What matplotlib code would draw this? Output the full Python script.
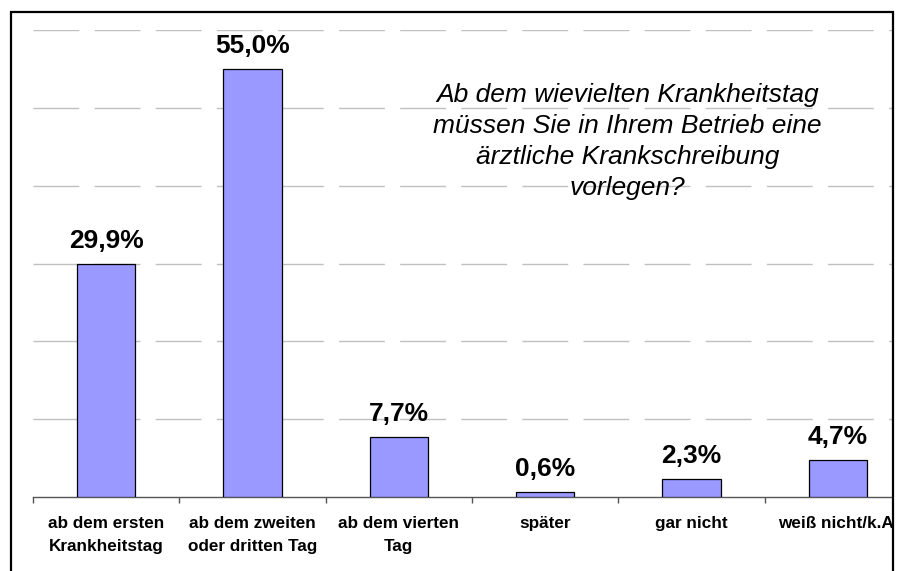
import numpy as np
import matplotlib.pyplot as plt
from matplotlib.patches import Rectangle

categories = ['ab dem ersten\nKrankheitstag', 'ab dem zweiten\noder dritten Tag',
              'ab dem vierten\nTag', 'später', 'gar nicht', 'weiß nicht/k.A.']
values = [29.9, 55.0, 7.7, 0.6, 2.3, 4.7]
value_labels = ['29,9%', '55,0%', '7,7%', '0,6%', '2,3%', '4,7%']
question = ('Ab dem wievielten Krankheitstag\nmüssen Sie in Ihrem Betrieb eine\n'
            'ärztliche Krankschreibung\nvorlegen?')

plt.rcParams['font.family'] = ['Liberation Sans', 'DejaVu Sans']

W, H = 899, 571
fig = plt.figure(figsize=(W / 100, H / 100), dpi=100)
# Zeichenfläche reicht rechts über den Rahmen hinaus (wie im Original abgeschnitten)
ax = fig.add_axes([33 / W, (H - 497) / H, (911 - 33) / W, (497 - 30) / H])

x = np.arange(len(categories))
ax.bar(x, values, width=0.4, color='#9999FF', edgecolor='black', linewidth=0.9, zorder=3)

for xi, v, lab in zip(x, values, value_labels):
    ax.annotate(lab, (xi, v), xytext=(0, 8), textcoords='offset points',
                ha='center', va='bottom', fontsize=19, fontweight='bold', zorder=4)

ax.set_xlim(-0.5, len(categories) - 0.5)
ax.set_ylim(0, 60)
ax.set_yticks(np.arange(10, 61, 10))
ax.yaxis.grid(True, color='#c0c0c0', linewidth=1, linestyle=(0, (33, 11)), zorder=0)
ax.tick_params(axis='y', length=0, labelleft=False)

ax.set_xticks(np.arange(-0.5, len(categories), 1))
ax.set_xticklabels([])
ax.tick_params(axis='x', which='major', direction='out', length=4, width=1, color='#555555')
ax.set_xticks(x, minor=True)
ax.set_xticklabels(categories, minor=True, fontsize=12.3, fontweight='bold', linespacing=1.6)
ax.tick_params(axis='x', which='minor', length=0, pad=14)

for s in ['top', 'right', 'left']:
    ax.spines[s].set_visible(False)
ax.spines['bottom'].set_color('#555555')
ax.spines['bottom'].set_linewidth(1)

ax.text(0.698, 0.752, question, transform=fig.transFigure, ha='center', va='center',
        fontsize=19, fontstyle='italic', linespacing=1.36)

# weißer Streifen rechts und äußerer Rahmen
fig.patches.append(Rectangle((894 / W, 0), 1, 1, transform=fig.transFigure,
                             facecolor='white', edgecolor='none', zorder=10))
fig.patches.append(Rectangle((11 / W, -0.1), (893 - 11) / W, (H - 12) / H + 0.1,
                             transform=fig.transFigure, fill=False,
                             edgecolor='black', linewidth=1.6, zorder=11))

fig.savefig('out.png', dpi=100)
